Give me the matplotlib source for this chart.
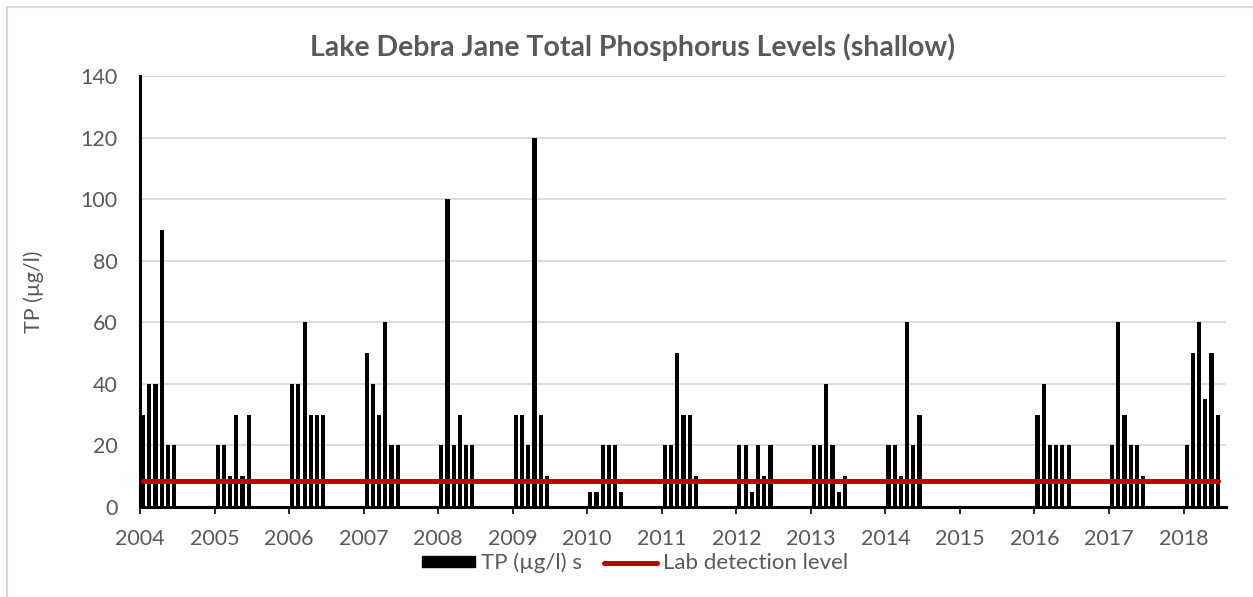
import numpy as np
import matplotlib.pyplot as plt
from matplotlib.patches import Patch, Rectangle
from matplotlib.lines import Line2D

plt.rcParams['font.family'] = ['Lato', 'DejaVu Sans']

# monthly samples (Jan..Jun) per year, TP in ug/l
years = [2004, 2005, 2006, 2007, 2008, 2009, 2010, 2011, 2012, 2013, 2014, 2016, 2017, 2018]
months = [1, 2, 3, 4, 5, 6]
tp_2004 = [30, 40, 40, 90, 20, 20]
tp_2005 = [20, 20, 10, 30, 10, 30]
tp_2006 = [40, 40, 60, 30, 30, 30]
tp_2007 = [50, 40, 30, 60, 20, 20]
tp_2008 = [20, 100, 20, 30, 20, 20]
tp_2009 = [30, 30, 20, 120, 30, 10]
tp_2010 = [5, 5, 20, 20, 20, 5]
tp_2011 = [20, 20, 50, 30, 30, 10]
tp_2012 = [20, 20, 5, 20, 10, 20]
tp_2013 = [20, 20, 40, 20, 5, 10]
tp_2014 = [20, 20, 10, 60, 20, 30]
tp_2016 = [30, 40, 20, 20, 20, 20]
tp_2017 = [20, 60, 30, 20, 20, 10]
tp_2018 = [20, 50, 60, 35, 50, 30]
tp_all = [tp_2004, tp_2005, tp_2006, tp_2007, tp_2008, tp_2009, tp_2010,
          tp_2011, tp_2012, tp_2013, tp_2014, tp_2016, tp_2017, tp_2018]
detection_level = 8.5

dates = []
values = []
for yr, vals in zip(years, tp_all):
    for m, v in zip(months, vals):
        dates.append(yr + (m - 0.5) / 12)
        values.append(v)
dates = np.array(dates)
values = np.array(values)

grey = '#595959'
fig = plt.figure(figsize=(12.53, 5.97), dpi=100)
ax = fig.add_axes([140/1253, 1-507/597, 1086/1253, 431/597])

ax.bar(dates, values, width=0.056, color='black', zorder=2)
ax.plot([dates[0], dates[-1]], [detection_level, detection_level],
        color='#C00000', lw=3.6, solid_capstyle='round', zorder=3)

ax.set_xlim(2004.0, 2018.57)
ax.set_ylim(0, 140)
ax.set_yticks(range(0, 141, 20))
ax.set_xticks(range(2004, 2019))
ax.yaxis.grid(True, color='#D9D9D9', lw=1.3, zorder=0)
ax.set_axisbelow(True)
for s in ['top', 'right']:
    ax.spines[s].set_visible(False)
for s in ['left', 'bottom']:
    ax.spines[s].set_color('black')
    ax.spines[s].set_linewidth(2.2)
ax.tick_params(axis='y', length=0, labelsize=15.5, labelcolor=grey, pad=16)
ax.tick_params(axis='x', length=5, width=1.2, direction='out', color='black',
               labelsize=15.5, labelcolor=grey, pad=11)
ax.set_ylabel('TP (µg/l)', fontsize=15.5, color=grey, labelpad=26)

fig.text(0.5045, 1-47/597, 'Lake Debra Jane Total Phosphorus Levels (shallow)',
         ha='center', va='center', fontsize=20.5, fontweight='bold', color=grey)

handles = [Patch(facecolor='black', edgecolor='black'),
           Line2D([0], [0], color='#C00000', lw=3.6, solid_capstyle='round')]
fig.legend(handles, ['TP (µg/l) s', 'Lab detection level'], loc='center',
           bbox_to_anchor=(635/1253, 1-563/597), ncol=2, frameon=False,
           fontsize=16, labelcolor=grey, handlelength=2.4, handletextpad=0.25,
           columnspacing=1.0, handleheight=0.4, borderpad=0)

fig.patches.append(Rectangle((7/1253, -0.05), 1.1, 1-7/597+0.05,
                             transform=fig.transFigure, fill=False,
                             edgecolor='#D9D9D9', lw=1.5))

plt.savefig('out.png', dpi=100)
